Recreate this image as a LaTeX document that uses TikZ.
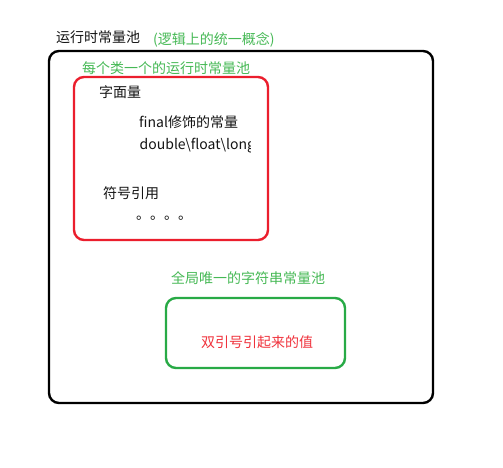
\documentclass[tikz,border=0pt]{standalone}
\usepackage{fontspec}
\setmainfont{Noto Sans CJK SC}
\begin{document}
\begin{tikzpicture}[x=1pt,y=-1pt,
  lbl/.style={inner sep=0pt,anchor=west,font=\fontsize{14}{16}\selectfont},
  pool/.style={line width=2.4pt,rounded corners=10pt}]
\definecolor{tgreen}{RGB}{70,185,85}
\definecolor{bgreen}{RGB}{40,170,70}
\definecolor{bred}{RGB}{235,30,45}
\definecolor{tred}{RGB}{240,50,60}
\definecolor{tblack}{RGB}{20,20,20}
\useasboundingbox (0,0) rectangle (503,468);
\fill[white] (0,0) rectangle (503,468);
% outer box
\draw[pool,black] (49,51) rectangle (433,403);
\node[lbl,text=tblack] (title) at (56,37) {运行时常量池};
\node[lbl,text=tgreen] (note) at (153,40) {(逻辑上的统一概念)};
% red box
\draw[pool,bred] (74,77) rectangle (268,240);
\node[lbl,text=tgreen] (cls) at (82,68) {每个类一个的运行时常量池};
\node[lbl,text=tblack] (lit) at (99,92) {字面量};
\node[lbl,text=tblack] (fin) at (139,122) {final修饰的常量};
\begin{scope}
\clip (130,130) rectangle (250.5,160);
\node[lbl,text=tblack] (dbl) at (139.5,146) {double\textbackslash float\textbackslash long};
\end{scope}
\node[lbl,text=tblack] (sym) at (103,193) {符号引用};
\node[lbl,text=tblack] (dots) at (136,218) {。。。。};
% green box
\node[lbl,text=tgreen] (glob) at (171,278) {全局唯一的字符串常量池};
\draw[pool,bgreen] (166,298) rectangle (345,368);
\node[lbl,text=tred] (dq) at (201,342) {双引号引起来的值};
\end{tikzpicture}
\end{document}
